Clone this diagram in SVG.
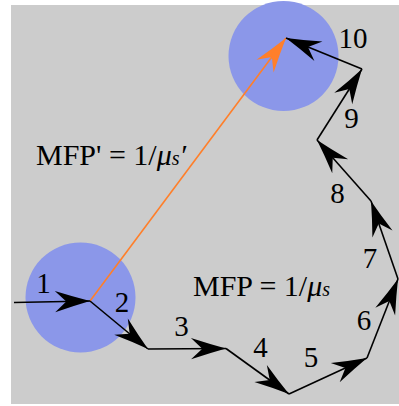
<svg xmlns="http://www.w3.org/2000/svg" width="399" height="406" viewBox="0 0 399 406">
  <defs>
    <style>
      .bg { fill: #cccccc; }
      .spot { fill: #8b97e9; }
      .step { stroke: #000; stroke-width: 1.6; fill: none; marker-end: url(#ah); }
      .mfp { stroke: #ff7f2a; stroke-width: 1.6; fill: none; marker-end: url(#aho); }
      .num { font-family: "Liberation Serif", "Times New Roman", serif; font-size: 29px; fill: #000; text-anchor: middle; }
      .eq { font-family: "Liberation Serif", "Times New Roman", serif; font-size: 30px; fill: #000; }
    </style>
    <marker id="ah" markerUnits="userSpaceOnUse" markerWidth="40" markerHeight="40" viewBox="-30 -15 32 30" refX="0" refY="0" orient="auto" overflow="visible">
      <path d="M0,0 Q-13,-3.5 -28,-8.5 L-19,0 L-28,8.5 Q-13,3.5 0,0 Z" fill="#000"/>
    </marker>
    <marker id="aho" markerUnits="userSpaceOnUse" markerWidth="40" markerHeight="40" viewBox="-30 -15 32 30" refX="0" refY="0" orient="auto" overflow="visible">
      <path d="M0,0 Q-13,-3.5 -28,-8.5 L-19,0 L-28,8.5 Q-13,3.5 0,0 Z" fill="#ff7f2a"/>
    </marker>
  </defs>
  <rect class="bg" x="11" y="5" width="388" height="399"/>
  <g id="scatter-start">
    <circle class="spot" cx="80.5" cy="297.5" r="55"/>
  </g>
  <g id="scatter-end">
    <circle class="spot" cx="283.5" cy="56" r="55"/>
  </g>
  <g id="connectors">
    <line class="mfp" x1="90" y1="301" x2="286" y2="38"/>
    <line class="step" x1="14" y1="302.5" x2="90" y2="301"/>
    <line class="step" x1="90" y1="301" x2="148" y2="349"/>
    <line class="step" x1="148" y1="349" x2="226" y2="348.5"/>
    <line class="step" x1="226" y1="348.5" x2="289" y2="394"/>
    <line class="step" x1="289" y1="394" x2="367" y2="358"/>
    <line class="step" x1="367" y1="358" x2="398" y2="279"/>
    <line class="step" x1="398" y1="279" x2="371" y2="201"/>
    <line class="step" x1="371" y1="201" x2="317" y2="140"/>
    <line class="step" x1="317" y1="140" x2="362" y2="69"/>
    <line class="step" x1="362" y1="69" x2="286" y2="38"/>
  </g>
  <g id="labels">
    <text class="num" x="43.5" y="292.5">1</text>
    <text class="num" x="122" y="312">2</text>
    <text class="num" x="181.5" y="336">3</text>
    <text class="num" x="260.5" y="357">4</text>
    <text class="num" x="311" y="367">5</text>
    <text class="num" x="364" y="330">6</text>
    <text class="num" x="370" y="268">7</text>
    <text class="num" x="337.5" y="203">8</text>
    <text class="num" x="351.5" y="128">9</text>
    <text class="num" x="353" y="47.5">10</text>
    <text class="eq" x="36" y="165">MFP' = 1/<tspan font-style="italic">μ</tspan><tspan font-style="italic" font-size="20">s</tspan><tspan font-style="italic">′</tspan></text>
    <text class="eq" x="193" y="296">MFP = 1/<tspan font-style="italic">μ</tspan><tspan font-style="italic" font-size="20">s</tspan></text>
  </g>
</svg>
